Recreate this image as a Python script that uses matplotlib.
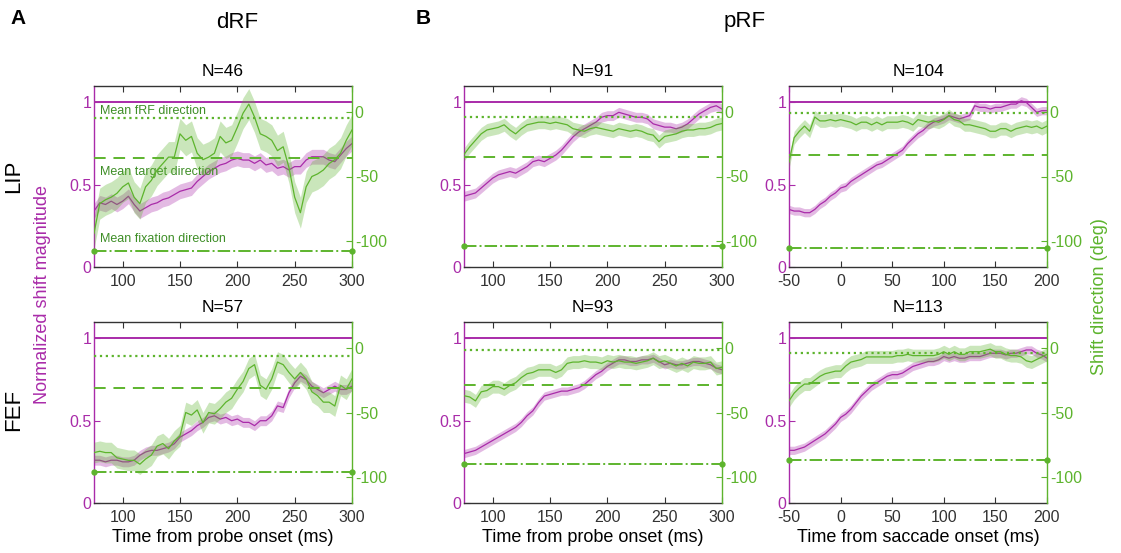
import numpy as np
import matplotlib
matplotlib.use("Agg")
import matplotlib.pyplot as plt

plt.rcParams.update({
    "font.family": ["Liberation Sans", "DejaVu Sans"],
    "font.size": 11,
    "axes.linewidth": 1.0,
    "axes.unicode_minus": False,
    "xtick.direction": "in",
    "ytick.direction": "in",
})

MAGENTA = "#A92BA9"
GREEN = "#5DB42D"
GREEN_TEXT = "#3E8E27"
DARK = "#333333"

# ---- time axes (ms) ----
T_PROBE = [75, 80, 85, 90, 95, 100, 105, 110, 115, 120, 125, 130, 135, 140, 145,
           150, 155, 160, 165, 170, 175, 180, 185, 190, 195, 200, 205, 210, 215,
           220, 225, 230, 235, 240, 245, 250, 255, 260, 265, 270, 275, 280, 285,
           290, 295, 300]
T_SACC = [-50, -45, -40, -35, -30, -25, -20, -15, -10, -5, 0, 5, 10, 15, 20, 25,
          30, 35, 40, 45, 50, 55, 60, 65, 70, 75, 80, 85, 90, 95, 100, 105, 110,
          115, 120, 125, 130, 135, 140, 145, 150, 155, 160, 165, 170, 175, 180,
          185, 190, 195, 200]

# ---- dRF LIP (N=46) ----
drf_lip_mag = [0.34, 0.39, 0.38, 0.40, 0.38, 0.40, 0.43, 0.38, 0.34, 0.36, 0.38,
               0.39, 0.41, 0.42, 0.44, 0.46, 0.47, 0.48, 0.52, 0.55, 0.58, 0.60,
               0.62, 0.63, 0.65, 0.66, 0.65, 0.65, 0.63, 0.65, 0.62, 0.63, 0.60,
               0.61, 0.59, 0.61, 0.61, 0.65, 0.67, 0.67, 0.67, 0.65, 0.64, 0.68,
               0.72, 0.75]
drf_lip_dir = [-94, -71, -68, -66, -63, -58, -55, -66, -71, -58, -53, -45, -40,
               -35, -35, -17, -22, -19, -32, -37, -35, -32, -19, -24, -22, -12,
               -1, 6, -4, -17, -19, -22, -30, -27, -43, -66, -78, -58, -50, -48,
               -45, -40, -37, -32, -22, -14]

# ---- dRF FEF (N=57) ----
drf_fef_mag = [0.26, 0.26, 0.25, 0.26, 0.26, 0.25, 0.25, 0.26, 0.29, 0.31, 0.32,
               0.32, 0.33, 0.34, 0.36, 0.40, 0.42, 0.44, 0.47, 0.49, 0.52, 0.53,
               0.51, 0.52, 0.50, 0.51, 0.49, 0.49, 0.47, 0.50, 0.50, 0.53, 0.59,
               0.58, 0.67, 0.73, 0.77, 0.75, 0.71, 0.69, 0.67, 0.69, 0.71, 0.69,
               0.69, 0.71]
drf_fef_dir = [-81, -80, -81, -81, -85, -86, -87, -87, -90, -86, -83, -76, -74,
               -78, -72, -68, -50, -52, -48, -58, -50, -51, -47, -42, -39, -32,
               -26, -16, -13, -29, -32, -24, -11, -13, -19, -24, -19, -24, -34,
               -37, -42, -42, -45, -29, -32, -24]

# ---- pRF LIP, probe-aligned (N=91) ----
prf_lip_probe_mag = [0.43, 0.44, 0.45, 0.48, 0.51, 0.54, 0.56, 0.57, 0.58, 0.57,
                     0.59, 0.61, 0.64, 0.65, 0.64, 0.66, 0.68, 0.71, 0.75, 0.79,
                     0.82, 0.84, 0.86, 0.88, 0.91, 0.92, 0.92, 0.94, 0.93, 0.92,
                     0.91, 0.91, 0.90, 0.87, 0.86, 0.85, 0.85, 0.84, 0.85, 0.87,
                     0.90, 0.93, 0.95, 0.97, 0.98, 0.96]
prf_lip_probe_dir = [-33, -27, -22, -17, -14, -13, -12, -10, -14, -17, -13, -10,
                     -9, -8, -8, -9, -8, -9, -10, -13, -14, -15, -13, -12, -13,
                     -14, -15, -13, -14, -15, -14, -15, -17, -18, -23, -19, -18,
                     -17, -15, -14, -14, -13, -13, -12, -10, -9]

# ---- pRF LIP, saccade-aligned (N=104) ----
prf_lip_sacc_mag = [0.35, 0.34, 0.34, 0.33, 0.33, 0.35, 0.38, 0.40, 0.43, 0.45,
                    0.48, 0.49, 0.52, 0.54, 0.56, 0.58, 0.60, 0.62, 0.63, 0.65,
                    0.67, 0.69, 0.71, 0.75, 0.78, 0.81, 0.83, 0.86, 0.88, 0.89,
                    0.90, 0.92, 0.91, 0.90, 0.91, 0.92, 0.98, 0.97, 0.97, 0.96,
                    0.97, 0.97, 0.98, 0.99, 0.99, 1.01, 1.00, 0.97, 0.94, 0.95,
                    0.95]
prf_lip_sacc_dir = [-39, -20, -15, -11, -15, -4, -7, -7, -6, -7, -6, -7, -8, -10,
                    -8, -8, -10, -8, -10, -8, -8, -8, -7, -8, -10, -6, -7, -8,
                    -7, -8, -6, -3, -6, -7, -10, -10, -11, -12, -13, -15, -15,
                    -13, -13, -15, -13, -12, -11, -12, -11, -13, -11]

# ---- pRF FEF, probe-aligned (N=93) ----
prf_fef_probe_mag = [0.30, 0.31, 0.32, 0.34, 0.36, 0.38, 0.40, 0.42, 0.44, 0.46,
                     0.49, 0.53, 0.56, 0.61, 0.65, 0.66, 0.67, 0.68, 0.68, 0.69,
                     0.70, 0.72, 0.75, 0.78, 0.80, 0.83, 0.85, 0.87, 0.87, 0.86,
                     0.86, 0.87, 0.87, 0.88, 0.86, 0.84, 0.85, 0.84, 0.84, 0.85,
                     0.86, 0.86, 0.85, 0.84, 0.82, 0.81]
prf_fef_probe_dir = [-37, -38, -41, -34, -33, -30, -30, -32, -29, -27, -23, -20,
                     -19, -17, -17, -17, -19, -17, -12, -11, -11, -10, -11, -11,
                     -12, -10, -11, -10, -11, -11, -12, -11, -10, -8, -11, -10,
                     -12, -14, -12, -14, -11, -12, -12, -11, -16, -15]

# ---- pRF FEF, saccade-aligned (N=113) ----
prf_fef_sacc_mag = [0.32, 0.32, 0.33, 0.34, 0.36, 0.38, 0.40, 0.42, 0.45, 0.48,
                    0.52, 0.54, 0.57, 0.61, 0.65, 0.68, 0.71, 0.73, 0.75, 0.77,
                    0.78, 0.78, 0.79, 0.81, 0.83, 0.84, 0.85, 0.86, 0.86, 0.87,
                    0.89, 0.88, 0.89, 0.88, 0.88, 0.89, 0.89, 0.89, 0.90, 0.91,
                    0.91, 0.91, 0.90, 0.91, 0.91, 0.92, 0.93, 0.93, 0.91, 0.90,
                    0.88]
prf_fef_sacc_dir = [-41, -35, -31, -28, -28, -25, -22, -20, -19, -18, -18, -14,
                    -11, -10, -9, -7, -7, -7, -7, -7, -7, -6, -6, -5, -6, -6, -6,
                    -6, -6, -5, -3, -5, -3, -5, -5, -3, -3, -3, -2, -1, -3, -3,
                    -5, -6, -6, -7, -10, -11, -9, -7, -5]

# per panel, in order: dRF LIP, dRF FEF, pRF LIP probe, pRF FEF probe,
# pRF LIP saccade, pRF FEF saccade
SEM_MAG = [0.045, 0.03, 0.03, 0.025, 0.025, 0.025]
SEM_DIR = [12, 8, 5, 5, 5, 5]

# reference directions: fRF (dotted), target (dashed), fixation (dash-dot)
REF_FRF = [-5, -6, -4, -2, -1, -4]
REF_TARGET = [-36, -31, -35, -29, -33, -27]
REF_FIX = [-108, -96, -104, -90, -105, -87]

PANELS = [
    ("N=46", T_PROBE, drf_lip_mag, drf_lip_dir),
    ("N=57", T_PROBE, drf_fef_mag, drf_fef_dir),
    ("N=91", T_PROBE, prf_lip_probe_mag, prf_lip_probe_dir),
    ("N=93", T_PROBE, prf_fef_probe_mag, prf_fef_probe_dir),
    ("N=104", T_SACC, prf_lip_sacc_mag, prf_lip_sacc_dir),
    ("N=113", T_SACC, prf_fef_sacc_mag, prf_fef_sacc_dir),
]

W, H = 1121, 553
fig = plt.figure(figsize=(W / 100, H / 100), dpi=100)

col_left = [94, 464, 789]
row_top = [86, 322]
ax_w, ax_h = 258, 181
positions = [(0, 0), (0, 1), (1, 0), (1, 1), (2, 0), (2, 1)]

for k, (title, t, mag, direc) in enumerate(PANELS):
    c, r = positions[k]
    left = col_left[c] / W
    bottom = 1 - (row_top[r] + ax_h) / H
    ax = fig.add_axes([left, bottom, ax_w / W, ax_h / H])
    ax2 = ax.twinx()

    t = np.array(t, dtype=float)
    mag = np.array(mag, dtype=float)
    direc = np.array(direc, dtype=float)

    ax.fill_between(t, mag - SEM_MAG[k], mag + SEM_MAG[k], color=MAGENTA,
                    alpha=0.32, linewidth=0)
    ax.plot(t, mag, color=MAGENTA, linewidth=0.9)
    ax.axhline(1.0, color=MAGENTA, linewidth=1.4)

    ax2.fill_between(t, direc - SEM_DIR[k], direc + SEM_DIR[k], color=GREEN,
                     alpha=0.32, linewidth=0)
    ax2.plot(t, direc, color=GREEN, linewidth=0.9)
    ax2.axhline(REF_FRF[k], color=GREEN, linestyle=":", linewidth=1.6)
    ax2.axhline(REF_TARGET[k], color=GREEN, linestyle=(0, (6, 4)), linewidth=1.4)
    ax2.plot([t[0], t[-1]], [REF_FIX[k], REF_FIX[k]], color=GREEN,
             linestyle="-.", linewidth=1.4, marker="o", markersize=3.5,
             clip_on=False)

    ax.set_xlim(t[0], t[-1])
    ax.set_ylim(0, 1.1)
    ax2.set_ylim(-120, 20)
    if t[0] < 0:
        ax.set_xticks([-50, 0, 50, 100, 150, 200])
    else:
        ax.set_xticks([100, 150, 200, 250, 300])
    ax.set_yticks([0, 0.5, 1])
    ax.set_yticklabels(["0", "0.5", "1"])
    ax2.set_yticks([-100, -50, 0])

    ax.tick_params(axis="x", top=True, colors=DARK, labelsize=11.5, length=4, pad=5)
    ax.tick_params(axis="y", colors=MAGENTA, labelsize=11.5, length=4, pad=2)
    ax2.tick_params(axis="y", colors=GREEN, labelsize=11.5, length=4, pad=2)

    ax.spines["left"].set_color(MAGENTA)
    ax.spines["right"].set_visible(False)
    ax.spines["top"].set_color(DARK)
    ax.spines["bottom"].set_color(DARK)
    for s in ("left", "top", "bottom"):
        ax2.spines[s].set_visible(False)
    ax2.spines["right"].set_color(GREEN)

    ax.set_title(title, fontsize=12.5, pad=7)
    if r == 1:
        label = ("Time from saccade onset (ms)" if t[0] < 0
                 else "Time from probe onset (ms)")
        ax.set_xlabel(label, fontsize=13, labelpad=3)

    if k == 0:
        ax.text(0.025, 0.862, "Mean fRF direction", transform=ax.transAxes,
                fontsize=9, color=GREEN_TEXT, va="center")
        ax.text(0.025, 0.525, "Mean target direction", transform=ax.transAxes,
                fontsize=9, color=GREEN_TEXT, va="center")
        ax.text(0.025, 0.155, "Mean fixation direction", transform=ax.transAxes,
                fontsize=9, color=GREEN_TEXT, va="center")

fig.text(18 / W, 1 - 18 / H, "A", fontsize=15, fontweight="bold",
         ha="center", va="center")
fig.text(423 / W, 1 - 18 / H, "B", fontsize=15, fontweight="bold",
         ha="center", va="center")
fig.text(237 / W, 1 - 22 / H, "dRF", fontsize=16, ha="center", va="center")
fig.text(745 / W, 1 - 22 / H, "pRF", fontsize=16, ha="center", va="center")
fig.text(14 / W, 1 - 176 / H, "LIP", fontsize=16, rotation=90,
         ha="center", va="center")
fig.text(14 / W, 1 - 410 / H, "FEF", fontsize=16, rotation=90,
         ha="center", va="center")
fig.text(43 / W, 1 - 295 / H, "Normalized shift magnitude", fontsize=13,
         rotation=90, color=MAGENTA, ha="center", va="center")
fig.text(1100 / W, 1 - 297 / H, "Shift direction (deg)", fontsize=13,
         rotation=90, color=GREEN, ha="center", va="center")

fig.savefig("out.png", dpi=100, facecolor="white")
